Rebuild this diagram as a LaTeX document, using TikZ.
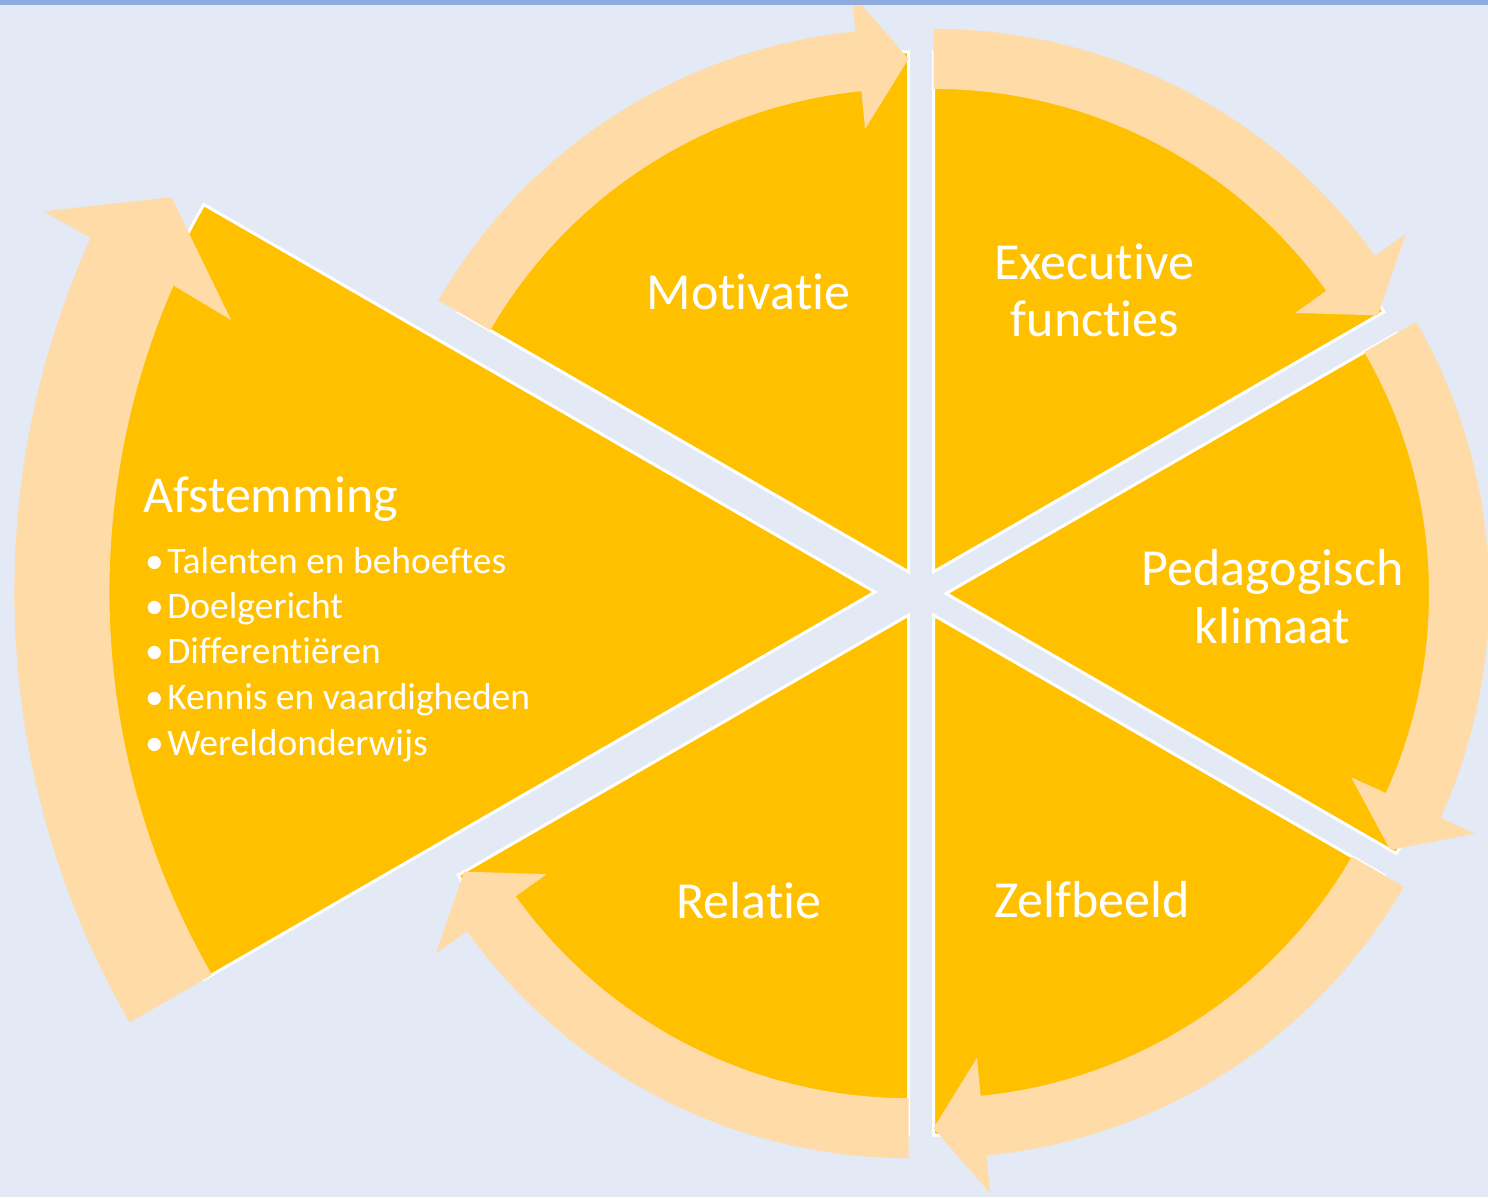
\documentclass[tikz,border=0pt]{standalone}
\usepackage{fontspec}
\setmainfont{Carlito}[Ligatures={NoCommon}]
\definecolor{segyellow}{HTML}{FFC000}
\definecolor{arrowpeach}{HTML}{FFDBA8}
\definecolor{paneblue}{HTML}{E3E9F5}
\definecolor{rimblue}{HTML}{8FAADC}

\begin{document}
\begin{tikzpicture}
	[x=1pt, y=1pt,
	segment/.style = {
		fill=segyellow,
		draw=white,
		line width=3
	},
	cyclearrow/.style = {
		fill=arrowpeach
	},
	seglabel/.style = {
		text=white,
		anchor=base,
		inner sep=0,
		font=\fontsize{52}{57}\selectfont
	},
	bulletline/.style = {
		text=white,
		anchor=base west,
		inner sep=0,
		font=\fontsize{37.5}{45}\selectfont
	}]
	
	
	%Background
	\useasboundingbox (0,0) rectangle (1488,-1197);
	\fill[paneblue] (0,0) rectangle (1488,-1197);
	
	%Segment tips
	\coordinate (afs) at (875,-592);
	\coordinate (mot) at (908.5,-571.9);
	\coordinate (exe) at (933.5,-571.9);
	\coordinate (ped) at (946,-593.5);
	\coordinate (zel) at (933.5,-615.1);
	\coordinate (rel) at (908.5,-615.1);
	
	%Draw segments
	\draw[segment] (afs) -- ++(150:775) arc[start angle=150, end angle=210, radius=775] -- cycle;
	\draw[segment] (mot) -- ++(150:520) arc[start angle=150, end angle=90, radius=520] -- cycle;
	\draw[segment] (exe) -- ++(90:520) arc[start angle=90, end angle=30, radius=520] -- cycle;
	\draw[segment] (ped) -- ++(30:520) arc[start angle=30, end angle=-30, radius=520] -- cycle;
	\draw[segment] (zel) -- ++(-30:520) arc[start angle=-30, end angle=-90, radius=520] -- cycle;
	\draw[segment] (rel) -- ++(-90:520) arc[start angle=-90, end angle=-150, radius=520] -- cycle;
	
	%Draw arrows
	\begin{scope}[shift={(afs)}, scale=1.585]
		\fill[cyclearrow] (210:483) arc[start angle=210, end angle=156.4, radius=483] -- (157.1:441) -- (150.7:509) -- (155.4:577) -- (155.7:543) arc[start angle=155.7, end angle=210, radius=543] -- cycle;
	\end{scope}
	\begin{scope}[shift={(mot)}]
		\fill[cyclearrow] (150:483) arc[start angle=150, end angle=95.6, radius=483] -- (95.6:445) -- (90:513) -- (95.6:581) -- (95.6:543) arc[start angle=95.6, end angle=150, radius=543] -- cycle;
	\end{scope}
	\begin{scope}[shift={(exe)}]
		\fill[cyclearrow] (90:483) arc[start angle=90, end angle=35.6, radius=483] -- (35.6:445) -- (30:513) -- (35.6:581) -- (35.6:543) arc[start angle=35.6, end angle=90, radius=543] -- cycle;
	\end{scope}
	\begin{scope}[shift={(ped)}]
		\fill[cyclearrow] (30:483) arc[start angle=30, end angle=-24.4, radius=483] -- (-24.4:445) -- (-30:513) -- (-24.4:581) -- (-24.4:543) arc[start angle=-24.4, end angle=30, radius=543] -- cycle;
	\end{scope}
	\begin{scope}[shift={(zel)}]
		\fill[cyclearrow] (-30:483) arc[start angle=-30, end angle=-84.4, radius=483] -- (-84.4:445) -- (-90:513) -- (-84.4:581) -- (-84.4:543) arc[start angle=-84.4, end angle=-30, radius=543] -- cycle;
	\end{scope}
	\begin{scope}[shift={(rel)}]
		\fill[cyclearrow] (-90:483) arc[start angle=-90, end angle=-144.4, radius=483] -- (-144.4:445) -- (-150:513) -- (-144.4:581) -- (-144.4:543) arc[start angle=-144.4, end angle=-90, radius=543] -- cycle;
	\end{scope}
	
	%Draw labels
	\node[seglabel] at (748.5,-309) (motlabel) {Motivatie};
	\node[seglabel] at (1094,-279) (exelabel1) {Executive};
	\node[seglabel] at (1095,-336) (exelabel2) {functies};
	\node[seglabel] at (1272.5,-585) (pedlabel1) {Pedagogisch};
	\node[seglabel] at (1272.5,-643) (pedlabel2) {klimaat};
	\node[seglabel] at (1092,-917) (zellabel) {Zelfbeeld};
	\node[seglabel] at (749,-918) (rellabel) {Relatie};
	\node[seglabel, anchor=base west] at (143,-512) (afslabel) {Afstemming};
	
	\node[bulletline] at (145,-573) (afs1) {•\hspace{3.5pt}Talenten en behoeftes};
	\node[bulletline] at (145,-618) (afs2) {•\hspace{3.5pt}Doelgericht};
	\node[bulletline] at (145,-663.5) (afs3) {•\hspace{3.5pt}Differentiëren};
	\node[bulletline] at (145,-709) (afs4) {•\hspace{3.5pt}Kennis en vaardigheden};
	\node[bulletline] at (145,-755) (afs5) {•\hspace{3.5pt}Wereldonderwijs};
	
	%Top rim
	\fill[rimblue] (0,0) rectangle (1488,-4.5);
	
\end{tikzpicture}
\end{document}
